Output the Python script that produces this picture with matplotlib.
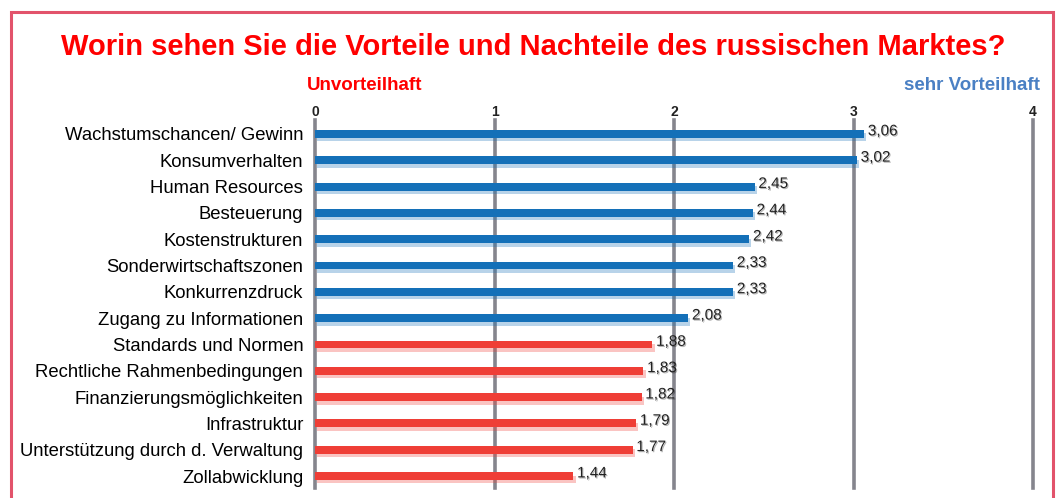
import matplotlib
matplotlib.use("Agg")
import matplotlib.pyplot as plt
import matplotlib.patheffects as pe
from matplotlib.patches import Rectangle

# data
categories = ["Wachstumschancen/ Gewinn", "Konsumverhalten", "Human Resources",
              "Besteuerung", "Kostenstrukturen", "Sonderwirtschaftszonen",
              "Konkurrenzdruck", "Zugang zu Informationen", "Standards und Normen",
              "Rechtliche Rahmenbedingungen", "Finanzierungsmöglichkeiten",
              "Infrastruktur", "Unterstützung durch d. Verwaltung", "Zollabwicklung"]
values = [3.06, 3.02, 2.45, 2.44, 2.42, 2.33, 2.33, 2.08,
          1.88, 1.83, 1.82, 1.79, 1.77, 1.44]
ticks = [0, 1, 2, 3, 4]

blue = "#1470b8"
red = "#ef3e36"
colors = [blue if v >= 2 else red for v in values]

W, H = 1058, 498
fig = plt.figure(figsize=(W / 100, H / 100), dpi=100)
plt.rcParams["font.family"] = ["Liberation Sans", "DejaVu Sans"]

# outer frame
fig.patches.append(Rectangle((11 / W, -0.1), (1053 - 11) / W, 1.1 - 12 / H,
                             transform=fig.transFigure, fill=False,
                             edgecolor="#e2536b", linewidth=2.2))

ax = fig.add_axes([315 / W, 1 - 490 / H, (1033 - 315) / W, (490 - 120) / H])
ax.set_xlim(0, 4)
ax.set_ylim(13.53, -0.53)

for t in ticks:
    ax.axvline(t, ymin=0.005, color="#85858d", linewidth=2.6, zorder=1, clip_on=False)

y = list(range(len(values)))
bars = ax.barh(y, values, height=0.3, color=colors, zorder=3)
for b, c in zip(bars, colors):
    b.set_path_effects([pe.SimplePatchShadow(offset=(1.5, -2.5), shadow_rgbFace=c, alpha=0.3),
                        pe.Normal()])

for yi, v in zip(y, values):
    ax.text(v + 0.02, yi - 0.1, f"{v:.2f}".replace(".", ","), fontsize=11,
            family=["Liberation Sans Narrow", "Liberation Sans"], color="#222222",
            va="center", ha="left", zorder=4,
            path_effects=[pe.withSimplePatchShadow(offset=(0.8, -0.8), alpha=0.3)])

ax.set_yticks(y)
ax.set_yticklabels(categories, fontsize=13.3)
ax.tick_params(axis="y", length=0, pad=8.5)
ax.xaxis.tick_top()
ax.set_xticks(ticks)
ax.set_xticklabels([str(t) for t in ticks], fontsize=10, fontweight="bold", color="#222222")
ax.tick_params(axis="x", length=0, pad=1)
for s in ax.spines.values():
    s.set_visible(False)

fig.text(533 / W, 1 - 47 / H, "Worin sehen Sie die Vorteile und Nachteile des russischen Marktes?",
         ha="center", va="center", fontsize=21, fontweight="bold", color="#ff0000")
fig.text(307 / W, 1 - 85 / H, "Unvorteilhaft", ha="left", va="center",
         fontsize=13.5, fontweight="bold", color="#ff0000")
fig.text(1040 / W, 1 - 85 / H, "sehr Vorteilhaft", ha="right", va="center",
         fontsize=13.5, fontweight="bold", color="#4a80c4")

fig.savefig("out.png", dpi=100)
